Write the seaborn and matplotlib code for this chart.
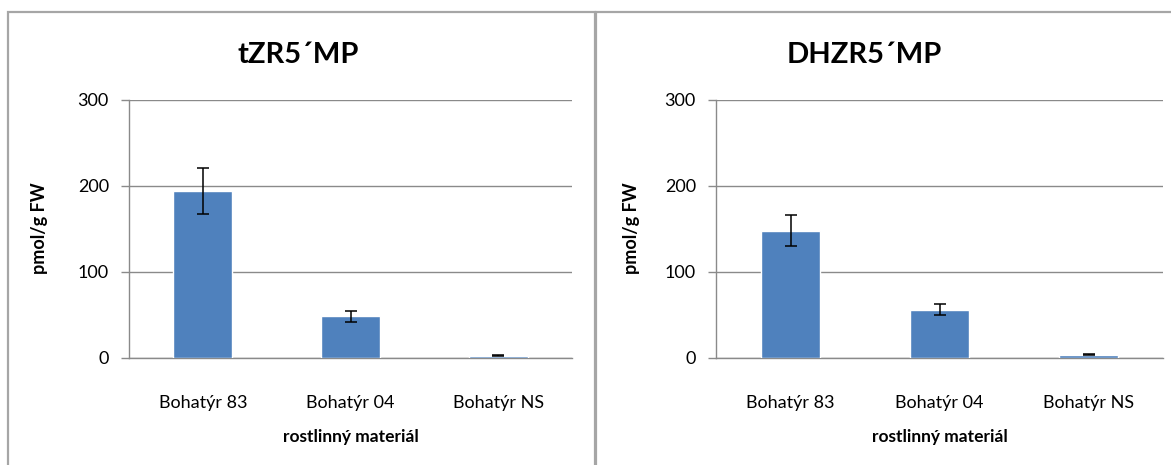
import matplotlib
matplotlib.use("Agg")
import matplotlib.pyplot as plt
from matplotlib.patches import Rectangle
import pandas as pd
import seaborn as sns

# Data
categories = ["Bohatýr 83", "Bohatýr 04", "Bohatýr NS"]
tzr_values = [194, 48, 2.5]
tzr_errors = [27, 6, 1]
dhzr_values = [148, 56, 3.5]
dhzr_errors = [18, 6.5, 0.6]
titles = ["tZR5´MP", "DHZR5´MP"]
y_ticks = [0, 100, 200, 300]
y_label = "pmol/g FW"
x_label = "rostlinný materiál"

BAR_COLOR = "#4F81BD"
GRID_COLOR = "#8a8a8a"
FRAME_COLOR = "#a6a6a6"

sns.set_theme(style="white")
plt.rcParams["font.family"] = ["Lato", "DejaVu Sans"]

W, H = 1171, 465
fig = plt.figure(figsize=(W / 100, H / 100), dpi=100)
fig.patch.set_facecolor("white")


def fx(px):
    return px / W


def fy(py):
    return 1 - py / H


# Chart-area frames around each panel
for x0, x1 in [(8, 595), (596, 1180)]:
    fig.patches.append(
        Rectangle((fx(x0), fy(490)), (x1 - x0) / W, (490 - 12) / H,
                  transform=fig.transFigure, fill=False,
                  edgecolor=FRAME_COLOR, lw=1.6, zorder=0)
    )

panels = [
    dict(values=tzr_values, errors=tzr_errors, title=titles[0],
         ax_px=(129, 572), title_x=298, ylab_x=40),
    dict(values=dhzr_values, errors=dhzr_errors, title=titles[1],
         ax_px=(716, 1163), title_x=864, ylab_x=632),
]

y_top, y_bottom = 100, 357.7

for p in panels:
    x0, x1 = p["ax_px"]
    ax = fig.add_axes([fx(x0), fy(y_bottom), (x1 - x0) / W, (y_bottom - y_top) / H])
    df = pd.DataFrame({"cat": categories, "val": p["values"], "err": p["errors"]})
    sns.barplot(data=df, x="cat", y="val", color=BAR_COLOR, saturation=1,
                width=0.4, ax=ax, zorder=3, errorbar=None)
    ax.errorbar(range(len(df)), df["val"], yerr=df["err"], fmt="none",
                ecolor="black", elinewidth=1.1, capsize=4, capthick=1.1, zorder=4)

    ax.set_ylim(0, 300)
    ax.set_xlim(-0.5, len(df) - 0.5)
    ax.set_yticks(y_ticks)
    ax.yaxis.grid(True, color=GRID_COLOR, lw=1)
    ax.set_axisbelow(True)
    for s in ["top", "right"]:
        ax.spines[s].set_visible(False)
    for s in ["left", "bottom"]:
        ax.spines[s].set_color(GRID_COLOR)
        ax.spines[s].set_linewidth(1)
    ax.tick_params(axis="y", which="major", left=True, length=5.5, width=1,
                   color=GRID_COLOR, labelsize=13, pad=9, labelcolor="black")
    ax.tick_params(axis="x", bottom=False, labelsize=13, pad=21, labelcolor="black")
    ax.set_xlabel("")
    ax.set_ylabel("")

    fig.text(fx(p["title_x"]), fy(55), p["title"], ha="center", va="center",
             fontsize=21, fontweight="bold", color="black")
    fig.text(fx((x0 + x1) / 2), fy(437), x_label, ha="center", va="center",
             fontsize=12.5, fontweight="bold", color="black")
    fig.text(fx(p["ylab_x"]), fy(228), y_label, ha="center", va="center",
             rotation=90, fontsize=13, fontweight="bold", color="black")

fig.savefig("out.png", dpi=100, facecolor="white")
